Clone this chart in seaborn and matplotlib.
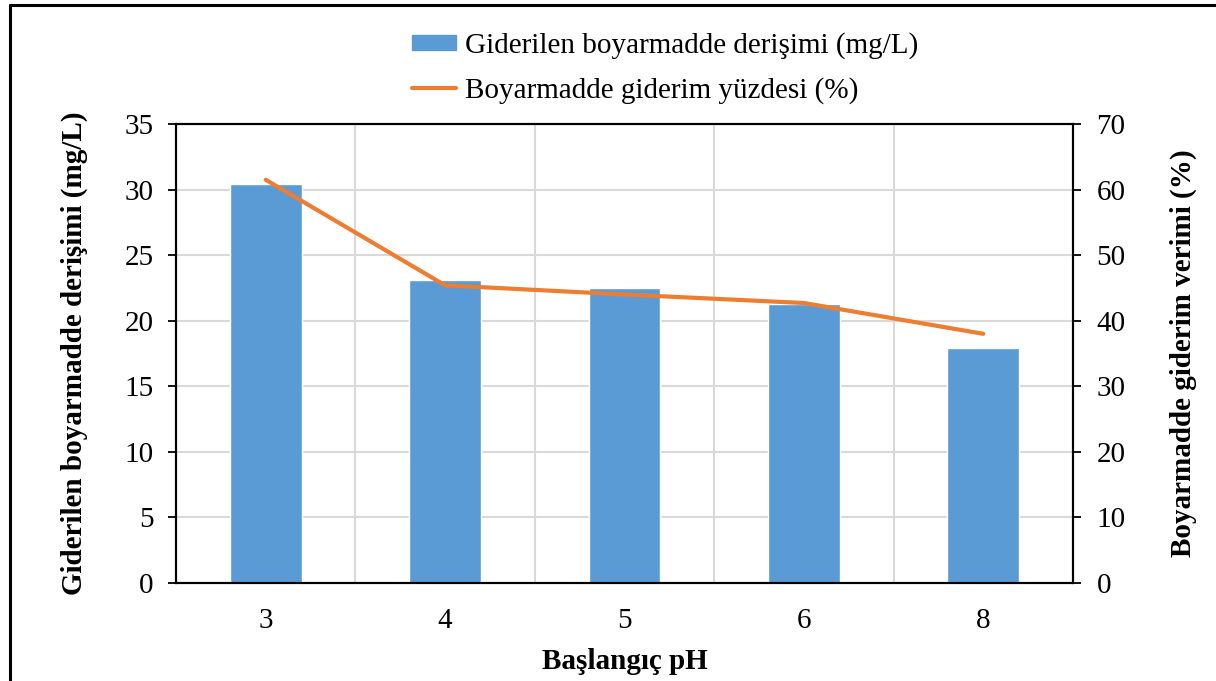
import matplotlib
matplotlib.use("Agg")
import matplotlib.pyplot as plt
from matplotlib.lines import Line2D
import seaborn as sns
import pandas as pd

# Data
ph_levels = ["3", "4", "5", "6", "8"]
removed_conc = [30.4, 23.1, 22.5, 21.3, 17.9]      # mg/L
removal_pct = [61.5, 45.4, 44.0, 42.7, 38.0]       # %

bar_label = "Giderilen boyarmadde derişimi (mg/L)"
line_label = "Boyarmadde giderim yüzdesi (%)"
left_ylabel = "Giderilen boyarmadde derişimi (mg/L)"
right_ylabel = "Boyarmadde giderim verimi (%)"
xlabel = "Başlangıç pH"

BAR_COLOR = "#5B9BD5"
LINE_COLOR = "#ED7D31"
GRID_COLOR = "#D9D9D9"

sns.set_theme(style="white")
plt.rcParams["font.family"] = ["Liberation Serif", "DejaVu Serif"]
plt.rcParams.update({
    "text.color": "black",
    "axes.labelcolor": "black",
    "xtick.color": "black",
    "ytick.color": "black",
})

df = pd.DataFrame({"pH": ph_levels, "conc": removed_conc, "pct": removal_pct})

fig = plt.figure(figsize=(12.16, 6.81), dpi=100)
ax = fig.add_axes([176 / 1216, 1 - 583 / 681, (1073 - 176) / 1216, (583 - 124) / 681])

sns.barplot(data=df, x="pH", y="conc", color=BAR_COLOR, width=0.4,
            saturation=1, ax=ax, zorder=2)

ax2 = ax.twinx()
sns.lineplot(data=df, x="pH", y="pct", color=LINE_COLOR, linewidth=3.0,
             ax=ax2, sort=False)

# Axis ranges
ax.set_xlim(-0.5, len(ph_levels) - 0.5)
ax.set_ylim(0, 35)
ax2.set_ylim(0, 70)
ax.set_yticks(range(0, 36, 5))
ax2.set_yticks(range(0, 71, 10))

# Category boundaries carry the vertical grid and the bottom ticks
bounds = [i - 0.5 for i in range(len(ph_levels) + 1)]
ax.set_xticks(bounds, minor=True)
ax.grid(False)
ax.grid(True, which="minor", axis="x", color=GRID_COLOR, linewidth=1.5, zorder=0)
ax.grid(True, which="major", axis="y", color=GRID_COLOR, linewidth=1.5, zorder=0)
ax.set_axisbelow(True)

ax.tick_params(axis="x", which="major", length=0, pad=18, labelsize=21, labelcolor="black")
ax.tick_params(axis="x", which="minor", length=8, width=1.3, color="black", direction="out")
ax.tick_params(axis="y", length=6, width=1.3, color="black", direction="out", pad=10,
               labelsize=21, left=True, labelcolor="black")
ax2.tick_params(axis="y", length=6, width=1.3, color="black", direction="out", pad=11,
                labelsize=21, right=True, labelcolor="black")

for a in (ax, ax2):
    for s in a.spines.values():
        s.set_color("black")
        s.set_linewidth(1.5)

ax.set_xlabel(xlabel, fontsize=21, fontweight="bold", color="black")
ax.xaxis.set_label_coords(0.5, -0.142)
ax.set_ylabel(left_ylabel, fontsize=21, fontweight="bold", color="black")
ax.yaxis.set_label_coords(-0.098, 0.5)
ax2.set_ylabel(right_ylabel, fontsize=21, fontweight="bold", color="black")
ax2.yaxis.set_label_coords(1.108, 0.5)

# Legend above the plot area
handles = [plt.Rectangle((0, 0), 1, 1, color=BAR_COLOR),
           Line2D([0], [0], color=LINE_COLOR, linewidth=3.0)]
leg = fig.legend(handles, [bar_label, line_label], loc="center",
                 bbox_to_anchor=(0.547, 1 - 68 / 681), frameon=False, fontsize=21,
                 handlelength=1.5, handleheight=0.45, handletextpad=0.3, labelspacing=0.6)
for t in leg.get_texts():
    t.set_color("black")

# Frame around the chart
fig.add_artist(Line2D([9.5 / 1216, 9.5 / 1216], [0, 1 - 4.5 / 681],
                      transform=fig.transFigure, color="black", linewidth=2.2))
fig.add_artist(Line2D([9.5 / 1216, 1], [1 - 4.5 / 681, 1 - 4.5 / 681],
                      transform=fig.transFigure, color="black", linewidth=2.2))

fig.savefig("out.png", dpi=100)
